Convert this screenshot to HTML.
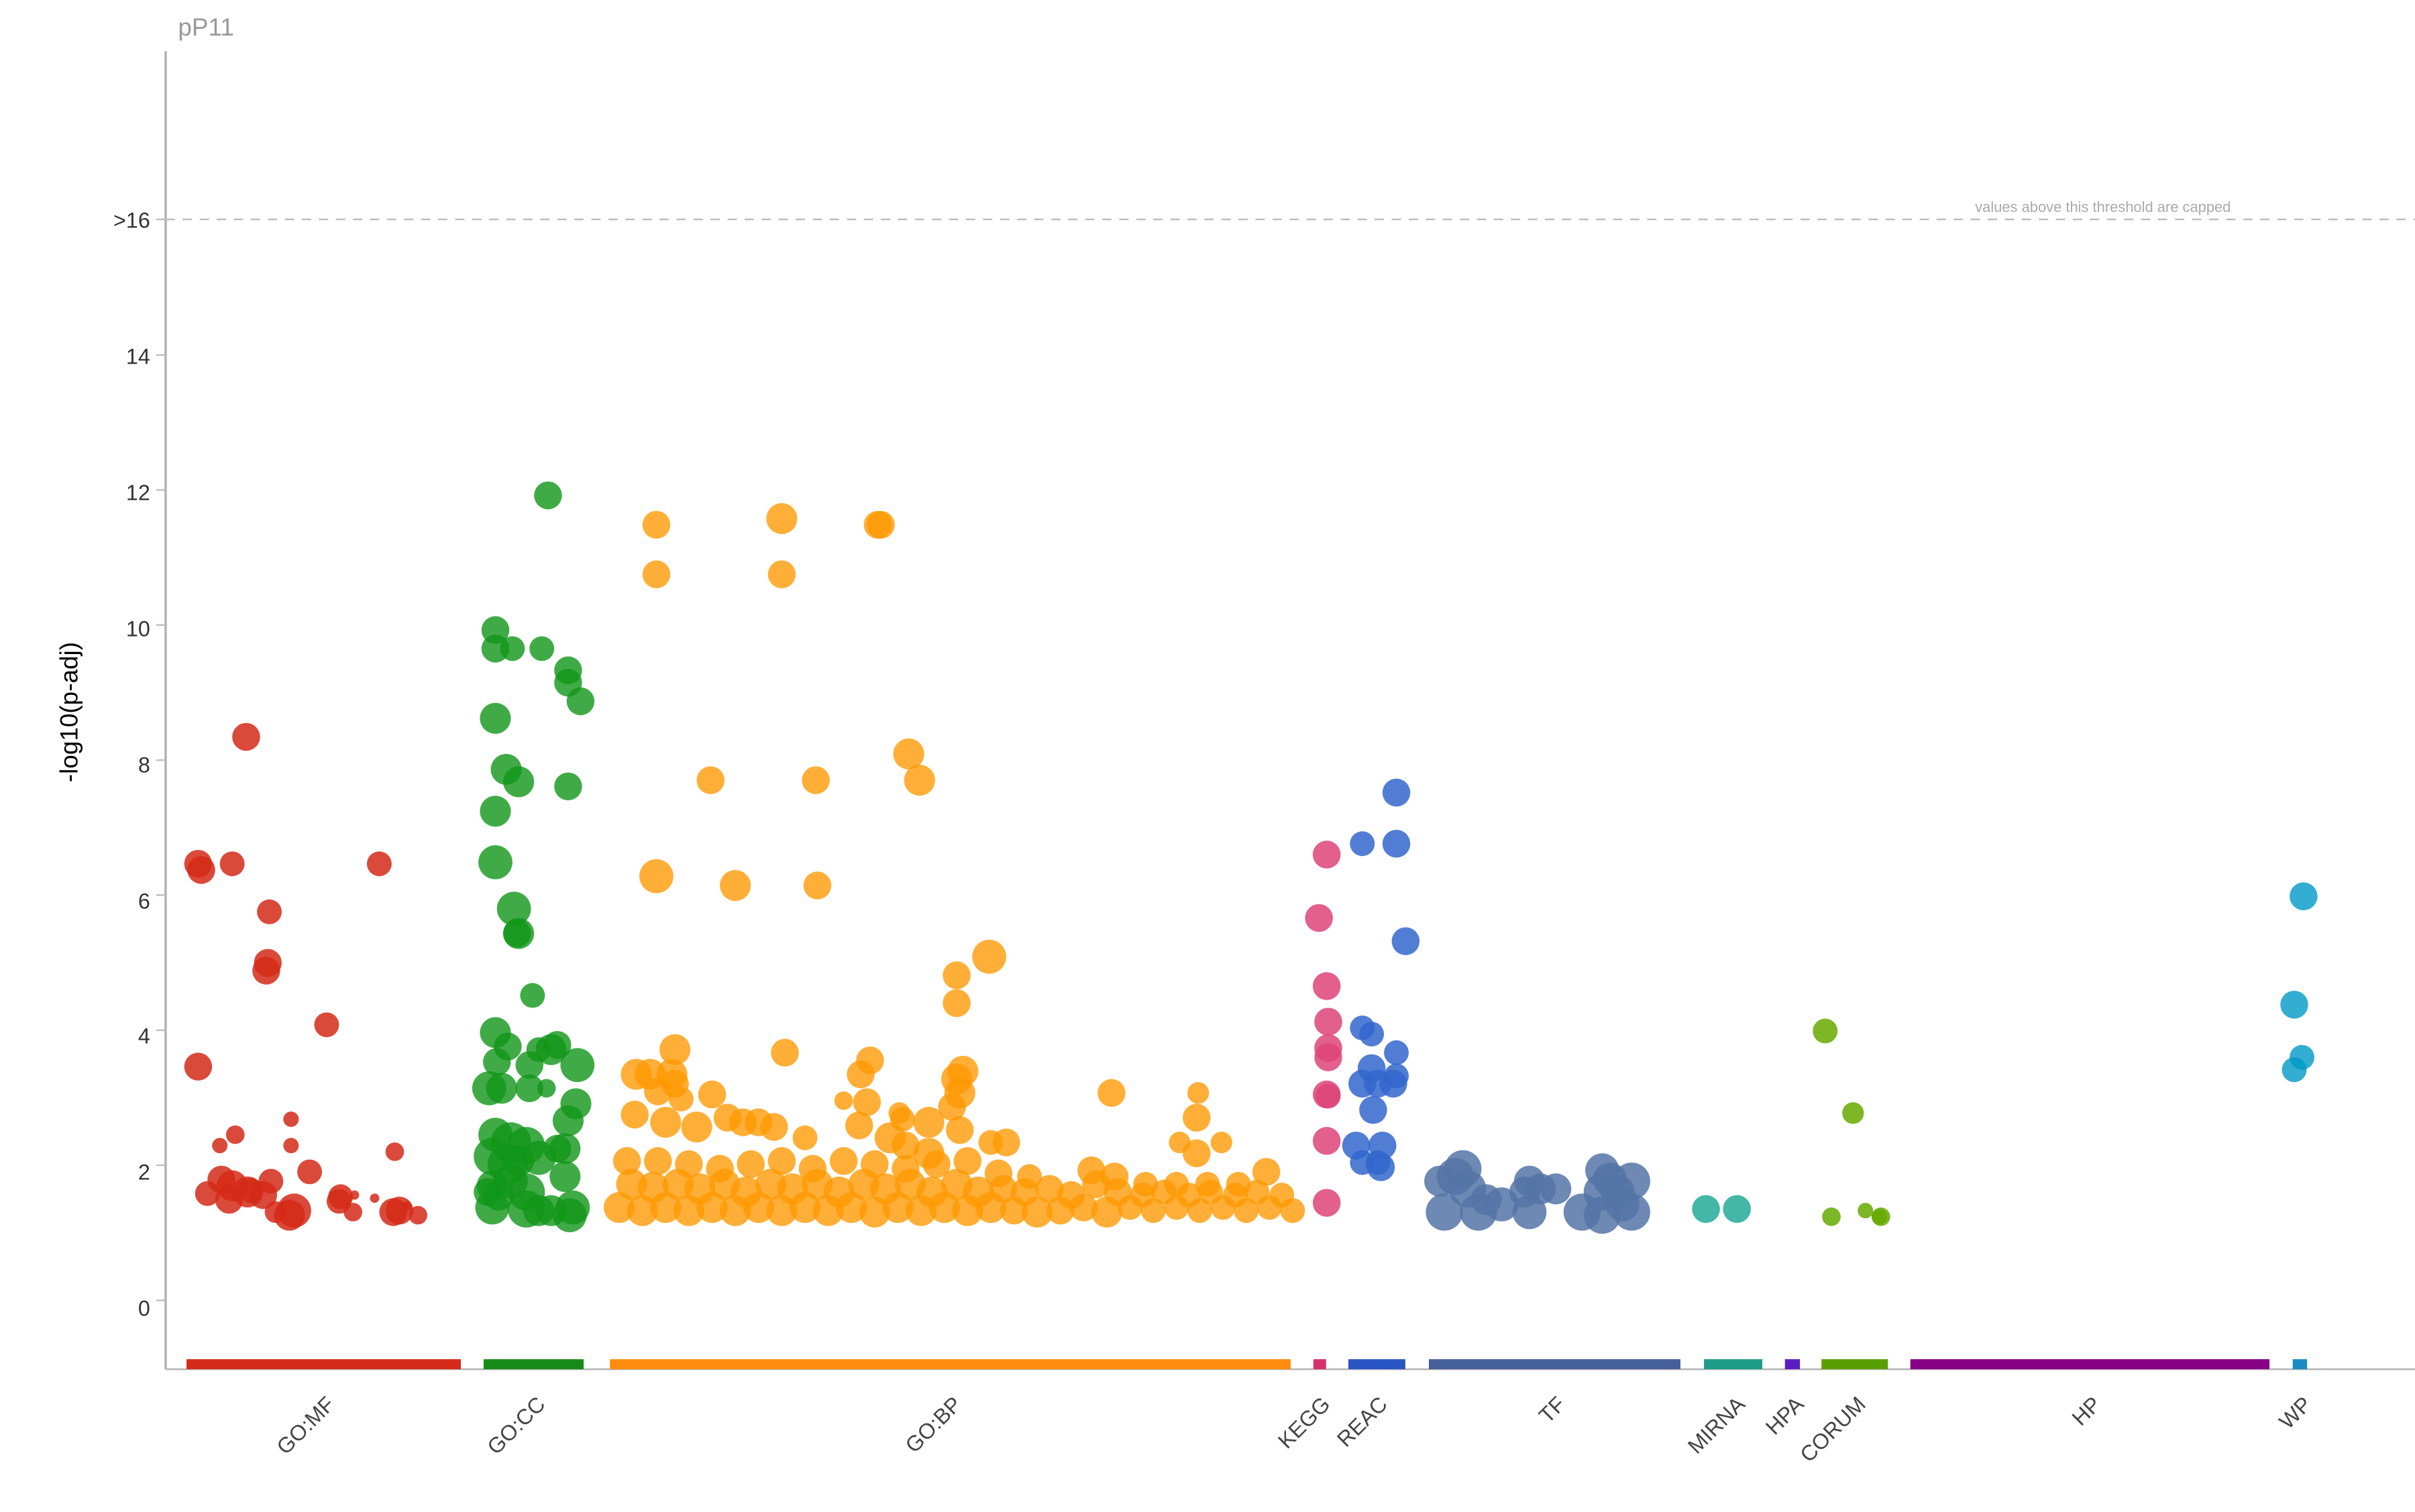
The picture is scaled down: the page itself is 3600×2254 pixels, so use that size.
<!DOCTYPE html>
<html><head><meta charset="utf-8"><style>html,body{margin:0;padding:0;background:#fff}svg{display:block}</style></head>
<body>
<svg width="3600" height="2254" viewBox="0 0 1560 976.7" xmlns="http://www.w3.org/2000/svg" font-family="Liberation Sans, sans-serif">
<rect width="1560" height="976.7" fill="#fff"/>
<text x="115" y="23" font-size="16" fill="#999">pP11</text>
<line x1="107" y1="33" x2="107" y2="884.5" stroke="#b0b0b0" stroke-width="1.5"/>
<line x1="107" y1="884.5" x2="1560" y2="884.5" stroke="#b0b0b0" stroke-width="1"/>
<line x1="107" y1="141.7" x2="1560" y2="141.7" stroke="#bbb" stroke-width="1" stroke-dasharray="6,5"/>
<text x="1441" y="137" font-size="9.5" fill="#aaa" text-anchor="end">values above this threshold are capped</text>
<g font-size="14" fill="#333" text-anchor="end">
<text x="97" y="147">&gt;16</text><text x="97" y="235">14</text><text x="97" y="323">12</text><text x="97" y="411">10</text><text x="97" y="499">8</text><text x="97" y="587">6</text><text x="97" y="674">4</text><text x="97" y="762">2</text><text x="97" y="850">0</text>
</g>
<g stroke="#bbb" stroke-width="1"><line x1="101" y1="141.7" x2="107" y2="141.7"/><line x1="101" y1="229.3" x2="107" y2="229.3"/><line x1="101" y1="316.5" x2="107" y2="316.5"/><line x1="101" y1="403.7" x2="107" y2="403.7"/><line x1="101" y1="491" x2="107" y2="491"/><line x1="101" y1="578.2" x2="107" y2="578.2"/><line x1="101" y1="665.5" x2="107" y2="665.5"/><line x1="101" y1="752.7" x2="107" y2="752.7"/><line x1="101" y1="840" x2="107" y2="840"/></g>
<text transform="translate(50,460) rotate(-90)" font-size="16" fill="#000" text-anchor="middle">-log10(p-adj)</text>
<g>
<rect x="120.5" y="878" width="177.2" height="6.5" fill="#d42a18"/>
<rect x="312.4" y="878" width="64.6" height="6.5" fill="#188a18"/>
<rect x="394" y="878" width="439.7" height="6.5" fill="#ff8c0e"/>
<rect x="848.4" y="878" width="8.2" height="6.5" fill="#d6306a"/>
<rect x="871" y="878" width="36.8" height="6.5" fill="#2a55c4"/>
<rect x="923" y="878" width="162.5" height="6.5" fill="#46609a"/>
<rect x="1100.7" y="878" width="37.7" height="6.5" fill="#1f9c88"/>
<rect x="1153" y="878" width="9.7" height="6.5" fill="#5b1fc0"/>
<rect x="1176.6" y="878" width="42.9" height="6.5" fill="#5a9e06"/>
<rect x="1234" y="878" width="232" height="6.5" fill="#870085"/>
<rect x="1481" y="878" width="9.3" height="6.5" fill="#1a8bc0"/>
</g>
<g font-size="14" fill="#444" text-anchor="end">
<text transform="translate(217,908) rotate(-45)">GO:MF</text>
<text transform="translate(353,908) rotate(-45)">GO:CC</text>
<text transform="translate(622,908) rotate(-45)">GO:BP</text>
<text transform="translate(860,908) rotate(-45)">KEGG</text>
<text transform="translate(897,908) rotate(-45)">REAC</text>
<text transform="translate(1012,908) rotate(-45)">TF</text>
<text transform="translate(1128,908) rotate(-45)">MIRNA</text>
<text transform="translate(1166,908) rotate(-45)">HPA</text>
<text transform="translate(1206,908) rotate(-45)">CORUM</text>
<text transform="translate(1358,908) rotate(-45)">HP</text>
<text transform="translate(1494,908) rotate(-45)">WP</text>
</g>
<!-- GO:MF -->
<g fill="#d42a18" fill-opacity="0.85">
<circle cx="128" cy="558" r="9"/><circle cx="130" cy="562" r="9"/><circle cx="150" cy="558" r="8"/><circle cx="159" cy="476" r="9"/><circle cx="174" cy="589" r="8"/><circle cx="173" cy="622" r="9"/><circle cx="172" cy="627" r="9"/><circle cx="211" cy="662" r="8"/><circle cx="245" cy="558" r="8"/><circle cx="128" cy="689" r="9"/><circle cx="152" cy="733" r="6"/><circle cx="142" cy="740" r="5"/><circle cx="188" cy="723" r="5"/><circle cx="188" cy="740" r="5"/><circle cx="200" cy="757" r="8"/><circle cx="255" cy="744" r="6"/><circle cx="134" cy="771" r="8"/><circle cx="143" cy="762" r="9"/><circle cx="150" cy="766" r="10"/><circle cx="160" cy="770" r="10"/><circle cx="170" cy="772" r="9"/><circle cx="175" cy="763" r="8"/><circle cx="187" cy="785" r="10"/><circle cx="190" cy="782" r="11"/><circle cx="178" cy="783" r="7"/><circle cx="148" cy="775" r="9"/><circle cx="220" cy="773" r="8"/><circle cx="219" cy="776" r="8"/><circle cx="228" cy="783" r="6"/><circle cx="242" cy="774" r="3"/><circle cx="229" cy="772" r="3"/><circle cx="254" cy="783" r="9"/><circle cx="258" cy="782" r="9"/><circle cx="270" cy="785" r="6"/><circle cx="263" cy="779" r="3"/><circle cx="162" cy="769" r="8"/>
</g>
<!-- GO:CC -->
<g fill="#109618" fill-opacity="0.8">
<circle cx="354" cy="320" r="9"/><circle cx="320" cy="407" r="9"/><circle cx="320" cy="419" r="9"/><circle cx="331" cy="419" r="8"/><circle cx="350" cy="419" r="8"/><circle cx="367" cy="433" r="9"/><circle cx="367" cy="441" r="9"/><circle cx="375" cy="453" r="9"/><circle cx="320" cy="464" r="10"/><circle cx="327" cy="497" r="10"/><circle cx="335" cy="505" r="10"/><circle cx="320" cy="524" r="10"/><circle cx="367" cy="508" r="9"/><circle cx="320" cy="557" r="11"/><circle cx="332" cy="587" r="11"/><circle cx="335" cy="603" r="10"/><circle cx="334" cy="603" r="9"/><circle cx="344" cy="643" r="8"/><circle cx="320" cy="667" r="10"/><circle cx="328" cy="676" r="9"/><circle cx="321" cy="686" r="9"/><circle cx="342" cy="688" r="9"/><circle cx="348" cy="678" r="8"/><circle cx="356" cy="678" r="10"/><circle cx="360" cy="675" r="9"/><circle cx="373" cy="688" r="11"/><circle cx="316" cy="703" r="11"/><circle cx="324" cy="703" r="10"/><circle cx="342" cy="703" r="9"/><circle cx="353" cy="703" r="6"/><circle cx="372" cy="713" r="10"/><circle cx="367" cy="724" r="10"/><circle cx="320" cy="733" r="11"/><circle cx="330" cy="738" r="13"/><circle cx="340" cy="740" r="12"/><circle cx="318" cy="747" r="12"/><circle cx="328" cy="752" r="13"/><circle cx="348" cy="748" r="11"/><circle cx="360" cy="742" r="9"/><circle cx="365" cy="742" r="10"/><circle cx="318" cy="766" r="10"/><circle cx="330" cy="763" r="11"/><circle cx="340" cy="770" r="12"/><circle cx="365" cy="760" r="10"/><circle cx="318" cy="780" r="11"/><circle cx="340" cy="781" r="12"/><circle cx="348" cy="782" r="10"/><circle cx="356" cy="782" r="10"/><circle cx="368" cy="785" r="11"/><circle cx="322" cy="772" r="10"/><circle cx="335" cy="750" r="10"/><circle cx="370" cy="780" r="11"/><circle cx="315" cy="770" r="9"/>
</g>
<!-- GO:BP -->
<g fill="#ff9900" fill-opacity="0.78">
<circle cx="424" cy="339" r="9"/><circle cx="505" cy="335" r="10"/><circle cx="567" cy="339" r="9"/><circle cx="569" cy="339" r="9"/><circle cx="424" cy="371" r="9"/><circle cx="505" cy="371" r="9"/><circle cx="459" cy="504" r="9"/><circle cx="527" cy="504" r="9"/><circle cx="587" cy="487" r="10"/><circle cx="594" cy="504" r="10"/><circle cx="424" cy="566" r="11"/><circle cx="475" cy="572" r="10"/><circle cx="528" cy="572" r="9"/><circle cx="639" cy="618" r="11"/><circle cx="618" cy="630" r="9"/><circle cx="618" cy="648" r="9"/><circle cx="436" cy="678" r="10"/><circle cx="507" cy="680" r="9"/><circle cx="562" cy="685" r="9"/><circle cx="556" cy="694" r="9"/><circle cx="622" cy="692" r="10"/><circle cx="618" cy="697" r="10"/><circle cx="620" cy="706" r="10"/><circle cx="718" cy="706" r="9"/><circle cx="774" cy="706" r="7"/><circle cx="773" cy="722" r="9"/><circle cx="762" cy="738" r="7"/><circle cx="789" cy="738" r="7"/><circle cx="773" cy="745" r="9"/><circle cx="411" cy="694" r="10"/><circle cx="420" cy="694" r="10"/><circle cx="434" cy="694" r="10"/><circle cx="436" cy="700" r="9"/><circle cx="460" cy="707" r="9"/><circle cx="545" cy="711" r="6"/><circle cx="581" cy="719" r="7"/><circle cx="583" cy="723" r="8"/>
<circle cx="410" cy="720" r="9"/><circle cx="430" cy="725" r="10"/><circle cx="450" cy="728" r="10"/><circle cx="470" cy="722" r="9"/><circle cx="480" cy="725" r="9"/><circle cx="500" cy="728" r="9"/><circle cx="520" cy="735" r="8"/><circle cx="555" cy="727" r="9"/><circle cx="575" cy="735" r="10"/><circle cx="600" cy="725" r="10"/><circle cx="620" cy="730" r="9"/><circle cx="640" cy="738" r="8"/><circle cx="650" cy="738" r="9"/><circle cx="425" cy="705" r="9"/><circle cx="440" cy="710" r="8"/><circle cx="490" cy="725" r="9"/><circle cx="560" cy="712" r="9"/><circle cx="585" cy="740" r="9"/><circle cx="615" cy="715" r="9"/><circle cx="600" cy="745" r="10"/>
<circle cx="405" cy="750" r="9"/><circle cx="425" cy="750" r="9"/><circle cx="445" cy="752" r="9"/><circle cx="465" cy="755" r="9"/><circle cx="485" cy="752" r="9"/><circle cx="505" cy="750" r="9"/><circle cx="525" cy="755" r="9"/><circle cx="545" cy="750" r="9"/><circle cx="565" cy="752" r="9"/><circle cx="585" cy="755" r="9"/><circle cx="605" cy="752" r="9"/><circle cx="625" cy="750" r="9"/><circle cx="645" cy="758" r="9"/><circle cx="665" cy="760" r="8"/><circle cx="705" cy="756" r="9"/><circle cx="720" cy="760" r="9"/><circle cx="740" cy="765" r="8"/><circle cx="760" cy="765" r="8"/><circle cx="780" cy="765" r="8"/><circle cx="800" cy="765" r="8"/><circle cx="818" cy="757" r="9"/>
<circle cx="408" cy="765" r="10"/><circle cx="422" cy="767" r="10"/><circle cx="438" cy="765" r="10"/><circle cx="452" cy="768" r="10"/><circle cx="468" cy="765" r="10"/><circle cx="482" cy="770" r="10"/><circle cx="498" cy="765" r="10"/><circle cx="512" cy="768" r="10"/><circle cx="528" cy="765" r="10"/><circle cx="542" cy="770" r="10"/><circle cx="558" cy="765" r="10"/><circle cx="572" cy="768" r="10"/><circle cx="588" cy="765" r="10"/><circle cx="602" cy="770" r="10"/><circle cx="618" cy="765" r="10"/><circle cx="632" cy="770" r="10"/><circle cx="648" cy="768" r="9"/><circle cx="662" cy="770" r="9"/><circle cx="678" cy="768" r="9"/><circle cx="692" cy="772" r="9"/><circle cx="708" cy="765" r="9"/><circle cx="722" cy="770" r="9"/><circle cx="738" cy="772" r="8"/><circle cx="752" cy="770" r="8"/><circle cx="768" cy="772" r="8"/><circle cx="782" cy="770" r="8"/><circle cx="798" cy="772" r="8"/><circle cx="812" cy="770" r="8"/><circle cx="828" cy="772" r="8"/>
<circle cx="400" cy="780" r="10"/><circle cx="415" cy="782" r="10"/><circle cx="430" cy="780" r="10"/><circle cx="445" cy="782" r="10"/><circle cx="460" cy="780" r="10"/><circle cx="475" cy="782" r="10"/><circle cx="490" cy="780" r="10"/><circle cx="505" cy="782" r="10"/><circle cx="520" cy="780" r="10"/><circle cx="535" cy="782" r="10"/><circle cx="550" cy="780" r="10"/><circle cx="565" cy="783" r="10"/><circle cx="580" cy="780" r="10"/><circle cx="595" cy="782" r="10"/><circle cx="610" cy="780" r="10"/><circle cx="625" cy="782" r="10"/><circle cx="640" cy="780" r="10"/><circle cx="655" cy="782" r="9"/><circle cx="670" cy="783" r="10"/><circle cx="685" cy="782" r="9"/><circle cx="700" cy="780" r="9"/><circle cx="715" cy="783" r="10"/><circle cx="730" cy="780" r="8"/><circle cx="745" cy="782" r="8"/><circle cx="760" cy="780" r="8"/><circle cx="775" cy="782" r="8"/><circle cx="790" cy="780" r="8"/><circle cx="805" cy="782" r="8"/><circle cx="820" cy="780" r="8"/><circle cx="835" cy="782" r="8"/>
</g>
<!-- KEGG -->
<g fill="#dd4477" fill-opacity="0.85">
<circle cx="857" cy="552" r="9"/><circle cx="852" cy="593" r="9"/><circle cx="857" cy="637" r="9"/><circle cx="858" cy="660" r="9"/><circle cx="858" cy="677" r="9"/><circle cx="858" cy="683" r="9"/><circle cx="857" cy="707" r="9"/><circle cx="858" cy="708" r="8"/><circle cx="857" cy="737" r="9"/><circle cx="857" cy="777" r="9"/>
</g>
<!-- REAC -->
<g fill="#3366cc" fill-opacity="0.85">
<circle cx="880" cy="545" r="8"/><circle cx="902" cy="512" r="9"/><circle cx="902" cy="545" r="9"/><circle cx="908" cy="608" r="9"/><circle cx="880" cy="664" r="8"/><circle cx="886" cy="668" r="8"/><circle cx="902" cy="680" r="8"/><circle cx="886" cy="690" r="9"/><circle cx="880" cy="700" r="9"/><circle cx="890" cy="700" r="9"/><circle cx="900" cy="700" r="9"/><circle cx="902" cy="695" r="8"/><circle cx="887" cy="717" r="9"/><circle cx="876" cy="740" r="9"/><circle cx="893" cy="740" r="9"/><circle cx="880" cy="751" r="8"/><circle cx="890" cy="751" r="8"/><circle cx="892" cy="754" r="9"/>
</g>
<!-- TF -->
<g fill="#5574a6" fill-opacity="0.85">
<circle cx="933" cy="783" r="12"/><circle cx="940" cy="760" r="12"/><circle cx="948" cy="768" r="12"/><circle cx="945" cy="755" r="12"/><circle cx="955" cy="783" r="12"/><circle cx="970" cy="778" r="11"/><circle cx="985" cy="770" r="10"/><circle cx="988" cy="763" r="10"/><circle cx="988" cy="783" r="11"/><circle cx="995" cy="768" r="10"/><circle cx="1005" cy="768" r="10"/><circle cx="1022" cy="783" r="12"/><circle cx="1035" cy="756" r="11"/><circle cx="1035" cy="770" r="12"/><circle cx="1035" cy="785" r="12"/><circle cx="1040" cy="762" r="11"/><circle cx="1048" cy="778" r="11"/><circle cx="1054" cy="763" r="12"/><circle cx="1054" cy="783" r="12"/><circle cx="1045" cy="770" r="11"/><circle cx="960" cy="775" r="10"/><circle cx="930" cy="763" r="10"/>
</g>
<g fill="#22aa99" fill-opacity="0.85"><circle cx="1102" cy="781" r="9"/><circle cx="1122" cy="781" r="9"/></g>
<g fill="#66aa00" fill-opacity="0.85"><circle cx="1179" cy="666" r="8"/><circle cx="1197" cy="719" r="7"/><circle cx="1183" cy="786" r="6"/><circle cx="1205" cy="782" r="5"/><circle cx="1215" cy="786" r="6"/><circle cx="1214" cy="786" r="5"/></g>
<g fill="#0099c6" fill-opacity="0.8"><circle cx="1488" cy="579" r="9"/><circle cx="1482" cy="649" r="9"/><circle cx="1487" cy="683" r="8"/><circle cx="1482" cy="691" r="8"/></g>
</svg>
</body></html>
